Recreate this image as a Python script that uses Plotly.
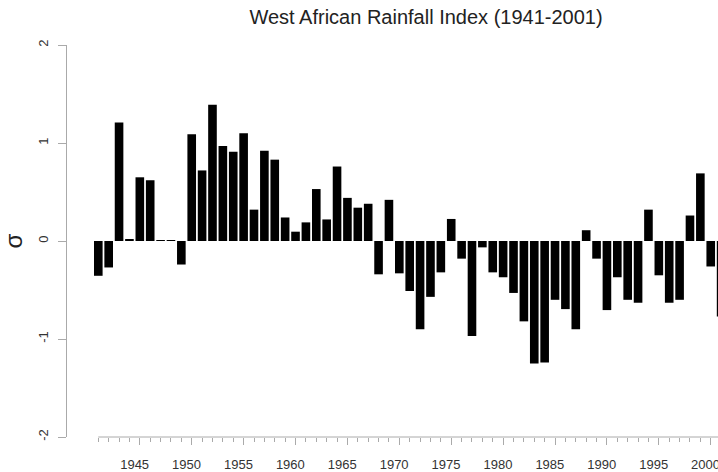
import plotly.graph_objects as go

years = list(range(1941, 2002))
rainfall_sigma = [
    -0.355, -0.27, 1.21, 0.02, 0.65, 0.62, 0.005, 0.005, -0.24, 1.09,
    0.72, 1.39, 0.97, 0.91, 1.10, 0.32, 0.92, 0.83, 0.24, 0.095,
    0.19, 0.53, 0.22, 0.76, 0.44, 0.34, 0.38, -0.34, 0.42, -0.33,
    -0.51, -0.90, -0.57, -0.32, 0.225, -0.18, -0.97, -0.065, -0.32, -0.37,
    -0.53, -0.82, -1.25, -1.24, -0.60, -0.695, -0.90, 0.11, -0.18, -0.705,
    -0.37, -0.60, -0.63, 0.32, -0.35, -0.63, -0.60, 0.26, 0.69, -0.26,
    -0.77,
]
major_years = list(range(1945, 2001, 5))
y_ticks = [-2, -1, 0, 1, 2]

AX = "#aaaaaa"
TXT = "#333333"
FONT = "Liberation Sans, Arial, sans-serif"

W, H = 718, 472

fig = go.Figure()
fig.add_trace(go.Bar(x=years, y=rainfall_sigma, marker=dict(color="black", line=dict(width=0)),
                     showlegend=False, hoverinfo="x+y"))
# invisible trace to host the label axis
fig.add_trace(go.Scatter(x=[years[0]], y=[0], xaxis="x2", mode="markers",
                         marker=dict(opacity=0), showlegend=False, hoverinfo="skip"))

fig.update_layout(
    width=W, height=H,
    margin=dict(l=67, r=0, t=45, b=35, autoexpand=False),
    paper_bgcolor="white", plot_bgcolor="white",
    bargap=0.17,
    font=dict(family=FONT, color=TXT),
    title=dict(text="West African Rainfall Index (1941-2001)", x=0.5515, xref="paper",
               xanchor="center", y=1 - 17 / H, yanchor="middle",
               font=dict(size=20, color="#222222", family=FONT)),
    xaxis=dict(range=[1937.985, 2000.70], showline=False, showgrid=False, zeroline=False,
               tickmode="array", tickvals=major_years, showticklabels=False,
               ticks="outside", ticklen=7, tickcolor=AX, tickwidth=1,
               minor=dict(tickmode="array", tickvals=years, ticks="outside",
                          ticklen=3.5, tickcolor=AX, tickwidth=1, showgrid=False)),
    xaxis2=dict(overlaying="x", matches="x", anchor="y", side="bottom",
                showline=False, showgrid=False, zeroline=False,
                tickmode="array", tickvals=[y - 0.5 for y in major_years],
                ticktext=[str(y) for y in major_years], ticks="",
                ticklabeloverflow="allow",
                ticklabelstandoff=18, tickfont=dict(size=13, color=TXT)),
    yaxis=dict(range=[-2, 2], tickmode="array", tickvals=y_ticks,
               ticktext=[str(v) for v in y_ticks], showgrid=False, zeroline=False,
               showline=True, linecolor=AX, linewidth=1, ticks="outside", ticklen=8,
               tickcolor=AX, tickwidth=1, tickangle=-90, ticklabelstandoff=5,
               tickfont=dict(size=13, color=TXT),
               title=dict(text="σ", font=dict(size=24, color="#222222"), standoff=11)),
    shapes=[dict(type="line", xref="x", yref="paper", x0=years[0], x1=years[-1] + 1,
                 y0=0, y1=0, line=dict(color=AX, width=1))],
)

fig.write_html("out.html", config={"displayModeBar": False},
               post_script="document.body.style.margin='0px';")
